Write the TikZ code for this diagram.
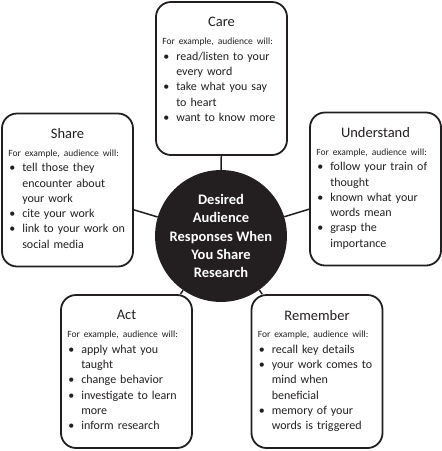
\documentclass[tikz,border=0pt]{standalone}
\usepackage{fontspec}
\setmainfont{Carlito}
\usetikzlibrary{calc}
\definecolor{cTinta}{HTML}{231F20}

\newcommand{\punto}[1]{\hangindent=14pt\hangafter=1%
  \makebox[14pt][l]{\hspace{1pt}\textbullet}#1\par}
\newcommand{\ejemplo}{{\fontsize{9.5}{10}\selectfont For example, audience will:\par}}

\begin{document}
\begin{tikzpicture}[
    x=1pt, y=-1pt,
    box/.style={draw=cTinta, line width=1.8pt, rounded corners=15pt,
                minimum width=131pt, minimum height=153pt, inner sep=0pt},
    hub/.style={circle, fill=cTinta, minimum size=130pt, inner sep=0pt,
                text=white, align=center,
                font=\fontsize{14.5}{18.3}\selectfont\bfseries},
    link/.style={draw=cTinta, line width=1.5pt},
    ttl/.style={font=\fontsize{14.5}{16}\selectfont, text=cTinta, inner sep=0pt},
    lst/.style={anchor=north west, text width=125pt, align=left, inner sep=0pt,
                font=\fontsize{12}{15.3}\selectfont, text=cTinta},
]
\useasboundingbox (0,0) rectangle (442,451);

% ===================== Centro =====================
\node[hub] (hub) at (221,236)
      {Desired\\Audience\\Responses When\\You Share\\Research};

% ===================== Cajas =====================
\foreach \n/\x/\y/\t in {care/221.5/78.5/Care, share/67.5/190/Share,
                         understand/375.5/189/Understand,
                         act/126.5/371.5/Act, remember/317/371.5/Remember} {
    \node[box] (\n) at (\x,\y) {};
    \node[ttl] at ($(\n.north)+(0,21)$) {\t};
}

% Listas: los cortes de linea van a mano, como en el original.
\node[lst] at ($(care.north west)+(7,37)$) {\ejemplo
    \punto{read/listen to your\newline every word}
    \punto{take what you say\newline to heart}
    \punto{want to know more}};

\node[lst] at ($(share.north west)+(7,37)$) {\ejemplo
    \punto{tell those they\newline encounter about\newline your work}
    \punto{cite your work}
    \punto{link to your work on\newline social media}};

\node[lst] at ($(understand.north west)+(7,37)$) {\ejemplo
    \punto{follow your train of\newline thought}
    \punto{known what your\newline words mean}
    \punto{grasp the\newline importance}};

\node[lst] at ($(act.north west)+(7,37)$) {\ejemplo
    \punto{apply what you\newline taught}
    \punto{change behavior}
    \punto{investigate to learn\newline more}
    \punto{inform research}};

\node[lst] at ($(remember.north west)+(7,37)$) {\ejemplo
    \punto{recall key details}
    \punto{your work comes to\newline mind when\newline beneficial}
    \punto{memory of your\newline words is triggered}};

% ===================== Conectores =====================
\foreach \n in {care, share, understand, act, remember} {\draw[link] (hub) -- (\n);}

\end{tikzpicture}
\end{document}
